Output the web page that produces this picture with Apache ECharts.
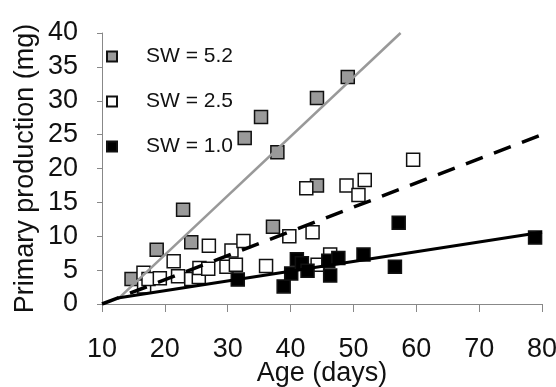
<!DOCTYPE html>
<html>
<head>
<meta charset="utf-8">
<script src="https://cdn.jsdelivr.net/npm/echarts@6/dist/echarts.min.js"></script>
<style>
  html, body { margin: 0; padding: 0; background: #fff; }
  #chart { width: 556px; height: 387px; }
</style>
</head>
<body>
<div id="chart"></div>
<script>
// [age (days), primary production (mg)]
const sw52 = [
  [14.7, 3.7], [18.7, 8.0], [22.9, 13.9], [24.2, 9.1], [32.7, 24.5], [35.3, 27.6],
  [37.2, 11.4], [37.9, 22.4], [44.2, 30.4], [44.2, 17.5], [49.1, 33.5]
]
const sw25 = [
  [16.6, 4.6], [16.7, 2.6], [17.4, 3.7], [19.2, 3.8], [21.4, 6.3], [22.1, 4.1],
  [24.2, 3.7], [25.4, 4.0], [25.5, 5.3], [26.9, 5.2], [27.0, 8.6], [29.8, 5.5],
  [30.6, 7.9], [31.3, 5.8], [32.5, 9.3], [36.1, 5.6], [39.8, 10.0], [42.5, 17.1],
  [43.5, 10.6], [44.3, 5.8], [46.3, 7.3], [48.9, 17.5], [50.8, 16.1], [51.8, 18.3],
  [59.5, 21.3]
]
const sw10 = [
  [31.6, 3.6], [38.9, 2.6], [40.1, 4.5], [41.0, 6.6], [41.8, 6.0], [42.7, 4.9],
  [46.0, 6.4], [46.3, 4.2], [47.6, 6.8], [51.6, 7.3], [56.6, 5.5], [57.2, 12.0],
  [78.9, 9.8]
]
// fitted lines (end points)
const fit52 = [[12.6, 0.8], [57.5, 40]]
const fit25 = [[10, 0], [79.7, 24.9]]
const fit10 = [[12.5, 0.9], [80, 10.6]]

const xTicks = [10, 20, 30, 40, 50, 60, 70, 80]
const yTicks = [0, 5, 10, 15, 20, 25, 30, 35, 40]
const names = ['SW = 5.2', 'SW = 2.5', 'SW = 1.0']

const font = 'Liberation Sans, Arial, sans-serif'
const chart = echarts.init(document.getElementById('chart'))

const axisCommon = {
  axisLine: { show: true, lineStyle: { color: '#888', width: 1 } },
  splitLine: { show: false },
  nameMoveOverlap: false,
  nameTextStyle: { color: '#111', fontSize: 27, fontFamily: font },
}

function scatter(name, data, fill) {
  return {
    name: name,
    type: 'scatter',
    data: data,
    symbol: 'rect',
    symbolSize: 13,
    itemStyle: { color: fill, borderColor: '#111', borderWidth: 1.5, opacity: 1 },
    z: 3
  }
}

function fitLine(data, color, width, dash) {
  return {
    type: 'line',
    data: data,
    symbol: 'none',
    silent: true,
    lineStyle: { color: color, width: width, type: dash || 'solid' },
    z: 4
  }
}

const option = {
  animation: false,
  textStyle: { fontFamily: font },
  grid: { left: 102, right: 14, top: 33, bottom: 83, containLabel: false, outerBoundsMode: 'none' },
  legend: {
    data: names,
    orient: 'vertical',
    left: 101,
    top: 41,
    itemWidth: 10,
    itemHeight: 10,
    itemGap: 24,
    textStyle: { fontSize: 21, color: '#111', fontFamily: font, padding: [0, 0, 0, 24] }
  },
  xAxis: Object.assign({}, axisCommon, {
    type: 'value',
    min: xTicks[0],
    max: xTicks[xTicks.length - 1],
    interval: 10,
    name: 'Age (days)',
    nameLocation: 'middle',
    nameGap: 56,
    axisTick: { show: true, length: 8, lineStyle: { color: '#888' } },
    axisLabel: { fontSize: 27, color: '#111', margin: 32, fontFamily: font }
  }),
  yAxis: Object.assign({}, axisCommon, {
    type: 'value',
    min: yTicks[0],
    max: yTicks[yTicks.length - 1],
    interval: 5,
    name: 'Primary production (mg)',
    nameLocation: 'middle',
    nameGap: 63,
    axisTick: { show: true, length: 5, lineStyle: { color: '#888' } },
    axisLabel: { fontSize: 27, color: '#111', margin: 24, fontFamily: font }
  }),
  series: [
    scatter(names[0], sw52, '#9a9a9a'),
    scatter(names[1], sw25, '#ffffff'),
    scatter(names[2], sw10, '#000000'),
    fitLine(fit52, '#999', 2.5),
    fitLine(fit25, '#000', 3.5, [18, 12]),
    fitLine(fit10, '#000', 3)
  ]
}

chart.setOption(option)
</script>
</body>
</html>
